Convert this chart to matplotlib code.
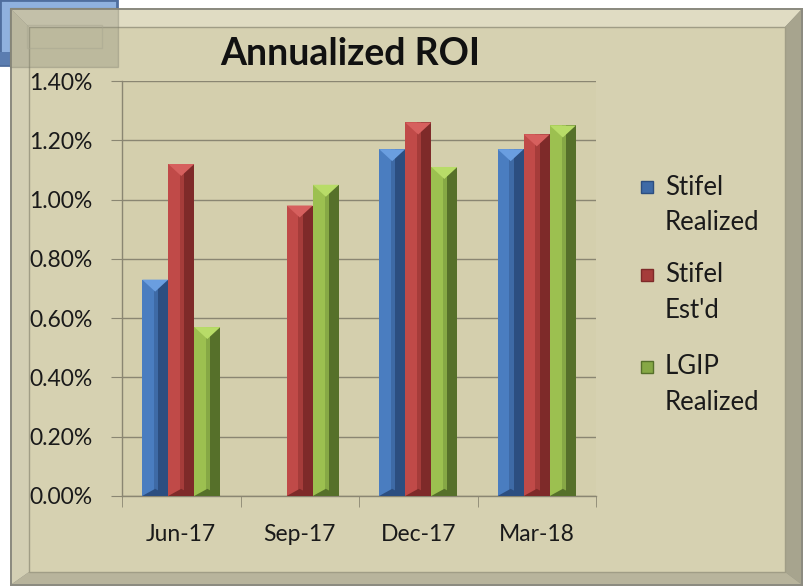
import numpy as np
import matplotlib
matplotlib.use("Agg")
import matplotlib.pyplot as plt
from matplotlib.patches import Rectangle, Polygon
from matplotlib.ticker import PercentFormatter, FixedLocator

# data
quarters = ["Jun-17", "Sep-17", "Dec-17", "Mar-18"]
stifel_realized = [0.0073, np.nan, 0.0117, 0.0117]
stifel_estd = [0.0112, 0.0098, 0.0126, 0.0122]
lgip_realized = [0.0057, 0.0105, 0.0111, 0.0125]
series_names = ["Stifel\nRealized", "Stifel\nEst'd", "LGIP\nRealized"]

# shades per series: (light, mid, dark, top)
shades = [
    ("#4a7dc0", "#3e6aa6", "#2c4e80", "#6a9ee0"),
    ("#c04a48", "#a53c3a", "#7e2a29", "#d6605e"),
    ("#9cc050", "#86a845", "#56702a", "#b8dc68"),
]

W, H = 806, 588
fig = plt.figure(figsize=(W / 100, H / 100), dpi=100, facecolor="white")
plt.rcParams["font.family"] = ["Lato", "DejaVu Sans"]

# background frame, drawn in pixel coords
bg = fig.add_axes([0, 0, 1, 1], zorder=0)
bg.set_xlim(0, W)
bg.set_ylim(H, 0)
bg.axis("off")

# blue window piece behind the frame (top left)
bg.add_patch(Rectangle((0, 0), 117, 65, facecolor="#8fb1de", edgecolor="#4f6e9e", lw=2))
bg.add_patch(Rectangle((0, 52), 117, 13, facecolor="#5b7db0", edgecolor="none"))

# outer border + bevel bands
bg.add_patch(Rectangle((10, 8), 793, 578, facecolor="#8c8b80", edgecolor="none"))
bg.add_patch(Polygon([(12, 10), (801, 10), (785, 27), (29, 27)], facecolor="#e0dcc3", edgecolor="none"))
bg.add_patch(Polygon([(12, 10), (29, 27), (29, 572), (12, 584)], facecolor="#d3cfb4", edgecolor="none"))
bg.add_patch(Polygon([(801, 10), (801, 584), (785, 572), (785, 27)], facecolor="#a7a48e", edgecolor="none"))
bg.add_patch(Polygon([(12, 584), (29, 572), (785, 572), (801, 584)], facecolor="#b8b49c", edgecolor="none"))
bg.add_patch(Rectangle((29, 27), 756, 545, facecolor="#d6d1b1", edgecolor="#a09d86", lw=1))

# plot area
ax = fig.add_axes([122 / W, 1 - 496 / H, (596 - 122) / W, (496 - 81) / H], zorder=2)
ax.set_facecolor("#d4cfad")

x = np.arange(len(quarters))
bw = 0.22
offsets = [-bw, 0, bw]
all_series = [stifel_realized, stifel_estd, lgip_realized]

ax.set_xlim(-0.5, len(quarters) - 0.5)
ax.set_ylim(0, 0.014)
th = 12 * 0.014 / 415  # height of bevel triangle (12 px)

for vals, off, (lt, md, dk, tp) in zip(all_series, offsets, shades):
    bars = ax.bar(x + off, vals, width=bw, color=md, zorder=3, linewidth=0)
    for b in bars:
        h = b.get_height()
        if not np.isfinite(h) or h <= 0:
            continue
        x0 = b.get_x()
        w = b.get_width()
        x1 = x0 + w
        xm = x0 + w / 2
        ax.add_patch(Rectangle((x0, 0), 0.45 * w, h, facecolor=lt, edgecolor="none", zorder=4))
        ax.add_patch(Rectangle((x0 + 0.62 * w, 0), 0.38 * w, h, facecolor=dk, edgecolor="none", zorder=4))
        ax.add_patch(Polygon([(x0, h), (x1, h), (xm, h - th)], facecolor=tp, edgecolor="none", zorder=5))
        ax.add_patch(Polygon([(x0, 0), (x1, 0), (xm, th * 0.6)], facecolor=dk, edgecolor="none", zorder=5))

ax.yaxis.set_major_locator(FixedLocator(np.arange(0, 0.0141, 0.002)))
ax.yaxis.set_major_formatter(PercentFormatter(xmax=1, decimals=2))
ax.grid(axis="y", color="#8a8672", lw=1, zorder=1)
ax.set_axisbelow(True)

ax.set_xticks(x)
ax.set_xticklabels(quarters)
ax.set_xticks(np.arange(-0.5, len(quarters)), minor=True)
ax.tick_params(axis="x", which="major", length=0, pad=20, labelsize=16.5, colors="#1a1a1a")
ax.tick_params(axis="x", which="minor", length=8, color="#8a8672", direction="out")
ax.tick_params(axis="y", length=8, color="#8a8672", pad=13, labelsize=16.5, colors="#1a1a1a")

for s in ["top", "right"]:
    ax.spines[s].set_visible(False)
for s in ["left", "bottom"]:
    ax.spines[s].set_color("#8a8672")
    ax.spines[s].set_linewidth(1)

# title
fig.text(350 / W, 1 - 54 / H, "Annualized ROI", ha="center", va="center",
         fontsize=27, fontweight="bold", color="#111111")

# legend, drawn by hand so the key sits beside the first line
leg_y = [187, 275, 367]
for name, (lt, md, dk, tp), yy in zip(series_names, shades, leg_y):
    bg.add_patch(Rectangle((641, yy - 6), 12, 12, facecolor=md, edgecolor=dk, lw=1, zorder=3))
    first, second = name.split("\n")
    fig.text(665 / W, 1 - yy / H, first, ha="left", va="center", fontsize=18.5, color="#1a1a1a")
    fig.text(665 / W, 1 - (yy + 35) / H, second, ha="left", va="center", fontsize=18.5, color="#1a1a1a")

# translucent grey square over the top left corner
top = fig.add_axes([0, 0, 1, 1], zorder=5)
top.set_xlim(0, W)
top.set_ylim(H, 0)
top.axis("off")
top.patch.set_alpha(0)
top.add_patch(Rectangle((10, 8), 108, 59, facecolor="#8e8d7a", edgecolor="#7c7b6c", lw=1, alpha=0.35))
top.add_patch(Rectangle((27, 25), 75, 23, facecolor="none", edgecolor="#a8a690", lw=1, alpha=0.5))

fig.savefig("out.png", dpi=100, facecolor="white")
